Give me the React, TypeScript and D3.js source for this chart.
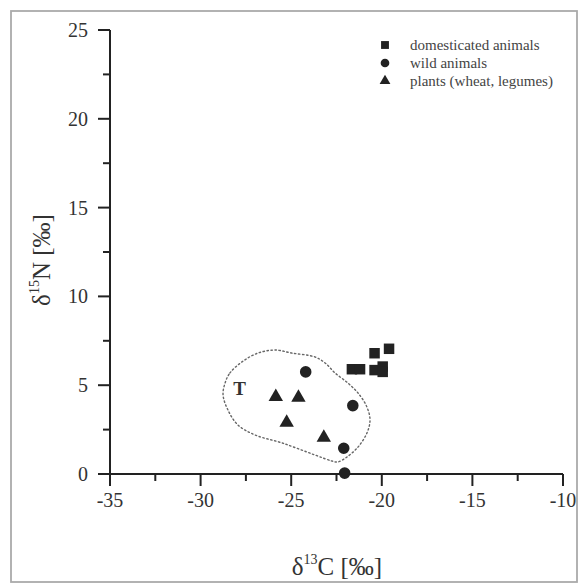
import React, { useEffect, useRef } from 'react';
import * as d3 from 'd3';

// delta13C / delta15N values
const domesticated: [number, number][] = [
  [-19.6, 7.05],
  [-20.4, 6.8],
  [-21.65, 5.9],
  [-21.2, 5.9],
  [-20.4, 5.85],
  [-19.95, 6.05],
  [-19.95, 5.75],
];
const wild: [number, number][] = [
  [-24.2, 5.75],
  [-21.6, 3.85],
  [-22.1, 1.45],
  [-22.05, 0.05],
];
const plants: [number, number][] = [
  [-25.85, 4.35],
  [-24.6, 4.3],
  [-25.25, 2.9],
  [-23.2, 2.05],
];
// dotted outline around the "T" group
const hull: [number, number][] = [
  [-28.65, 5.12], [-28.38, 5.69], [-27.72, 6.31], [-26.83, 6.81], [-25.89, 6.98],
  [-24.96, 6.81], [-23.69, 6.59], [-23.13, 6.25], [-22.58, 5.69], [-21.87, 5.12],
  [-21.31, 4.56], [-20.82, 3.77], [-20.65, 3.04], [-20.82, 2.31], [-21.31, 1.52],
  [-21.92, 0.96], [-22.42, 0.68], [-22.75, 0.73], [-23.69, 1.07], [-25.51, 1.75],
  [-27.0, 2.2], [-27.94, 2.76], [-28.49, 3.6], [-28.76, 4.45],
];
const hullLabel = { text: 'T', x: -27.85, y: 4.8 };

const xTicks = [-35, -30, -25, -20, -15, -10];
const xMinor = [-32.5, -27.5, -22.5, -17.5, -12.5];
const yTicks = [0, 5, 10, 15, 20, 25];
const yMinor = [2.5, 7.5, 12.5, 17.5, 22.5];
const legendItems = ['domesticated animals', 'wild animals', 'plants (wheat, legumes)'];

const W = 579;
const H = 585;
const ink = '#222';
const serif = '"Liberation Serif", "DejaVu Serif", serif';

function App() {
  const ref = useRef<SVGSVGElement>(null);

  useEffect(() => {
    document.body.style.margin = '0';
    const svg = d3.select(ref.current);
    svg.selectAll('*').remove();

    const x = d3.scaleLinear().domain([-35, -10]).range([110, 563]);
    const y = d3.scaleLinear().domain([0, 25]).range([474, 30]);

    // outer frame
    svg.append('rect')
      .attr('x', 11).attr('y', 11).attr('width', 566).attr('height', 571)
      .attr('fill', 'white').attr('stroke', '#aaa').attr('stroke-width', 1.8);

    const axes = svg.append('g').attr('stroke', ink).attr('stroke-width', 2);

    // y axis
    axes.append('line').attr('x1', x(-35)).attr('x2', x(-35)).attr('y1', y(25)).attr('y2', y(0));
    axes.selectAll('.ymaj').data(yTicks).enter().append('line')
      .attr('x1', x(-35) - 12).attr('x2', x(-35))
      .attr('y1', d => y(d)).attr('y2', d => y(d));
    axes.selectAll('.ymin').data(yMinor).enter().append('line')
      .attr('x1', x(-35) - 7).attr('x2', x(-35))
      .attr('y1', d => y(d)).attr('y2', d => y(d));

    // x axis
    axes.append('line').attr('x1', x(-35)).attr('x2', x(-10)).attr('y1', y(0)).attr('y2', y(0));
    axes.selectAll('.xmaj').data(xTicks).enter().append('line')
      .attr('x1', d => x(d)).attr('x2', d => x(d))
      .attr('y1', y(0)).attr('y2', y(0) + 12);
    axes.selectAll('.xmin').data(xMinor).enter().append('line')
      .attr('x1', d => x(d)).attr('x2', d => x(d))
      .attr('y1', y(0)).attr('y2', y(0) + 7);

    // tick labels
    svg.selectAll('.ylab').data(yTicks).enter().append('text')
      .attr('x', 88).attr('y', d => y(d)).attr('dy', '0.35em')
      .attr('text-anchor', 'end')
      .attr('font-family', serif).attr('font-size', 20).attr('fill', '#333')
      .text(d => d);
    svg.selectAll('.xlab').data(xTicks).enter().append('text')
      .attr('x', d => x(d)).attr('y', 507)
      .attr('text-anchor', 'middle')
      .attr('font-family', serif).attr('font-size', 20).attr('fill', '#333')
      .text(d => d);

    // axis titles
    const xt = svg.append('text')
      .attr('x', 337).attr('y', 575).attr('text-anchor', 'middle')
      .attr('font-family', serif).attr('font-size', 25).attr('fill', '#333');
    xt.append('tspan').text('δ');
    xt.append('tspan').attr('font-size', 14).attr('dy', -11).text('13');
    xt.append('tspan').attr('dy', 11).text('C [‰]');

    const yt = svg.append('text')
      .attr('transform', 'translate(50,260) rotate(-90)').attr('text-anchor', 'middle')
      .attr('font-family', serif).attr('font-size', 25).attr('fill', '#333');
    yt.append('tspan').text('δ');
    yt.append('tspan').attr('font-size', 14).attr('dy', -11).text('15');
    yt.append('tspan').attr('dy', 11).text('N [‰]');

    // dotted outline
    const line = d3.line<[number, number]>()
      .x(d => x(d[0])).y(d => y(d[1]))
      .curve(d3.curveCatmullRomClosed);
    svg.append('path').attr('d', line(hull))
      .attr('fill', 'none').attr('stroke', '#666').attr('stroke-width', 1.4)
      .attr('stroke-dasharray', '1.4,2.6').attr('stroke-linecap', 'round');

    svg.append('text')
      .attr('x', x(hullLabel.x)).attr('y', y(hullLabel.y)).attr('dy', '0.35em')
      .attr('text-anchor', 'middle')
      .attr('font-family', serif).attr('font-size', 19).attr('font-weight', 'bold')
      .attr('fill', '#333').text(hullLabel.text);

    const sym = {
      square: d3.symbol().type(d3.symbolSquare).size(110),
      circle: d3.symbol().type(d3.symbolCircle).size(105),
      triangle: d3.symbol().type(d3.symbolTriangle).size(90),
    };

    const draw = (data: [number, number][], s: d3.Symbol<any, any>) => {
      svg.append('g').selectAll('path').data(data).enter().append('path')
        .attr('d', s as any)
        .attr('transform', d => `translate(${x(d[0])},${y(d[1])})`)
        .attr('fill', ink);
    };
    draw(domesticated, sym.square);
    draw(wild, sym.circle);
    draw(plants, sym.triangle);

    // legend
    const legSyms = [sym.square, sym.circle, sym.triangle];
    const leg = svg.append('g');
    legendItems.forEach((t, i) => {
      const ly = 45 + i * 18;
      leg.append('path')
        .attr('d', (legSyms[i] as any)())
        .attr('transform', `translate(385,${ly}) scale(0.75)`)
        .attr('fill', ink);
      leg.append('text')
        .attr('x', 410).attr('y', ly).attr('dy', '0.35em')
        .attr('font-family', serif).attr('font-size', 15).attr('fill', '#444')
        .text(t);
    });
  }, []);

  return <svg ref={ref} width={W} height={H} style={{ display: 'block' }} />;
}

export default App;
